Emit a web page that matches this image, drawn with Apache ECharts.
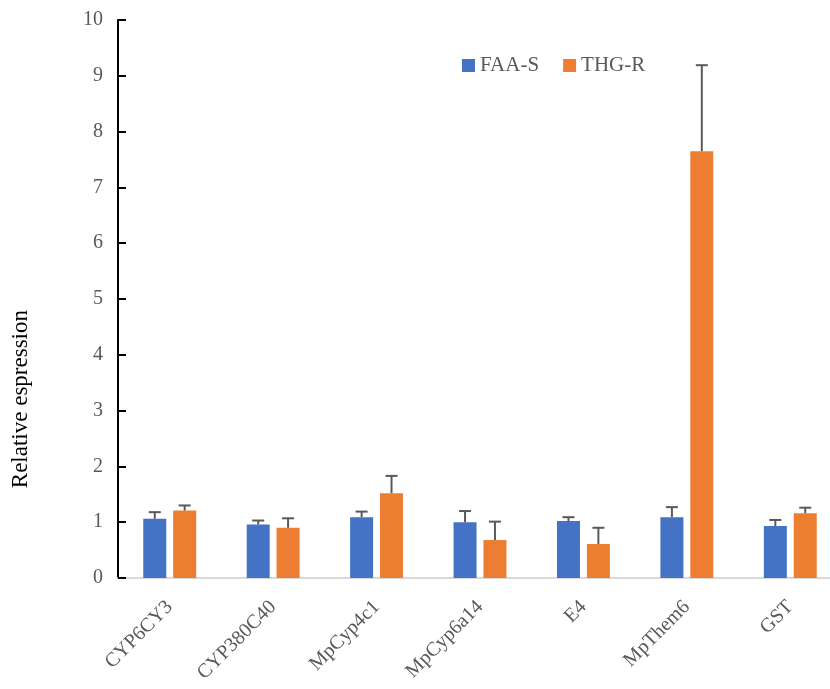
<!DOCTYPE html>
<html>
<head>
<meta charset="utf-8">
<script src="https://cdn.jsdelivr.net/npm/echarts@6/dist/echarts.min.js"></script>
<style>html,body{margin:0;padding:0;background:#fff;overflow:hidden}#c{width:842px;height:689px}</style>
</head>
<body>
<div id="c"></div>
<script>
const categories = ['CYP6CY3','CYP380C40','MpCyp4c1','MpCyp6a14','E4','MpThem6','GST'];
const faaS = [1.06, 0.96, 1.09, 1.00, 1.02, 1.09, 0.93];
const faaSErr = [0.12, 0.07, 0.10, 0.20, 0.07, 0.18, 0.11];
const thgR = [1.21, 0.90, 1.52, 0.68, 0.61, 7.65, 1.16];
const thgRErr = [0.09, 0.17, 0.31, 0.33, 0.29, 1.54, 0.10];
const yTicks = [0,1,2,3,4,5,6,7,8,9,10];

const BAR_W = 23, GAP = 0.3;
const half = (BAR_W + BAR_W * GAP) / 2;
const font = '"Liberation Serif", "Times New Roman", serif';

function errSeries(name, vals, errs, offset) {
  return {
    type: 'custom', name: name + ' err', silent: true, z: 5, clip: false,
    data: vals.map((v, i) => [i, v, v + errs[i]]),
    renderItem: function (params, api) {
      const i = api.value(0);
      const p0 = api.coord([i, api.value(1)]);
      const p1 = api.coord([i, api.value(2)]);
      const x = p0[0] + offset;
      const style = { stroke: '#595959', lineWidth: 2 };
      return { type: 'group', children: [
        { type: 'line', shape: { x1: x, y1: p0[1], x2: x, y2: p1[1] }, style: style },
        { type: 'line', shape: { x1: x - 6, y1: p1[1], x2: x + 6, y2: p1[1] }, style: style }
      ]};
    }
  };
}

const chart = echarts.init(document.getElementById('c'));
chart.setOption({
  animation: false,
  backgroundColor: '#fff',
  grid: { left: 118, right: 0, top: 20, bottom: 111 },
  legend: {
    data: ['FAA-S', 'THG-R'], top: 50, left: 457,
    itemWidth: 13, itemHeight: 13, itemGap: 24,
    icon: 'rect',
    textStyle: { fontFamily: font, fontSize: 21, color: '#595959' }
  },
  xAxis: {
    type: 'category', data: categories,
    axisLine: { lineStyle: { color: '#d9d9d9', width: 2 } },
    axisTick: { show: false },
    axisLabel: { rotate: 45, margin: 26, fontFamily: font, fontSize: 20, color: '#595959' }
  },
  yAxis: {
    type: 'value', min: yTicks[0], max: yTicks[yTicks.length - 1], interval: 1,
    splitLine: { show: false },
    axisLine: { show: true, lineStyle: { color: '#000', width: 2 } },
    axisTick: { show: true, inside: true, length: 8, lineStyle: { color: '#000', width: 2 } },
    axisLabel: { margin: 15, fontFamily: font, fontSize: 20, color: '#595959' }
  },
  graphic: [{
    type: 'text', left: 9, top: 310,
    rotation: Math.PI / 2,
    style: { text: 'Relative espression', font: '23px ' + font, fill: '#000' }
  }],
  series: [
    { name: 'FAA-S', type: 'bar', data: faaS, barWidth: BAR_W, barGap: (GAP * 100) + '%', itemStyle: { color: '#4472C4' } },
    { name: 'THG-R', type: 'bar', data: thgR, barWidth: BAR_W, barGap: (GAP * 100) + '%', itemStyle: { color: '#ED7D31' } },
    errSeries('FAA-S', faaS, faaSErr, -half),
    errSeries('THG-R', thgR, thgRErr, half)
  ]
});
</script>
</body>
</html>
